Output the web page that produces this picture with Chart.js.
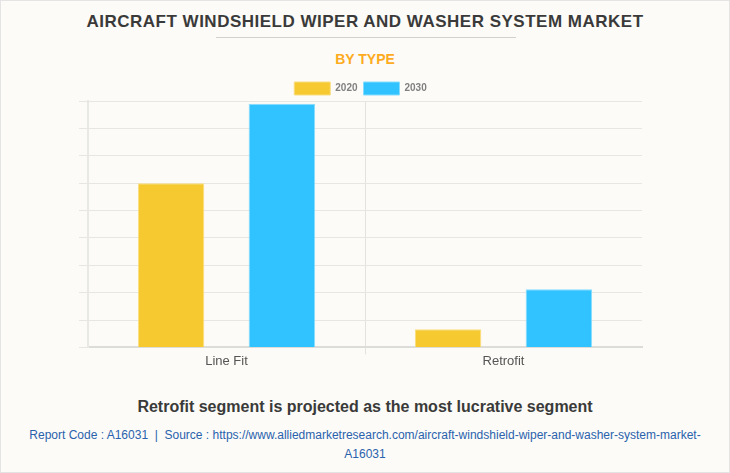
<!doctype html>
<html lang="en">

<head>
  <meta charset="utf-8">
  <title>Aircraft Windshield Wiper and Washer System Market</title>
  <style>
    html, body {
      margin: 0;
      padding: 0;
      background: #fcfbf7;
    }
    #page {
      position: relative;
      width: 728px;
      height: 471px;
      border: 1px solid #e4e4e4;
      overflow: hidden;
      font-family: "Liberation Sans", Arial, sans-serif;
    }
    #page div {
      position: absolute;
      left: 0;
      width: 728px;
      text-align: center;
    }
    #title {
      top: 11px;
      font-size: 17px;
      font-weight: bold;
      letter-spacing: 0.5px;
      color: #3a3a3a;
    }
    #rule {
      top: 36px;
      height: 1px;
      background: #d2d2cc;
      left: 215px !important;
      width: 300px !important;
    }
    #subtitle {
      top: 50px;
      font-size: 14px;
      font-weight: bold;
      color: #fdab1f;
    }
    #note {
      top: 397px;
      font-size: 16px;
      font-weight: bold;
      color: #3a3a3a;
    }
    #source {
      top: 425px;
      font-size: 12px;
      line-height: 19px;
      color: #2a62ad;
    }
    #chart {
      position: absolute;
      left: -1px;
      top: 75px;
    }
  </style>
</head>

<body>
  <div id="page">
    <div id="title">AIRCRAFT WINDSHIELD WIPER AND WASHER SYSTEM MARKET</div>
    <div id="rule"></div>
    <div id="subtitle">BY TYPE</div>
    <canvas id="chart" width="730" height="299"></canvas>
    <div id="note">Retrofit segment is projected as the most lucrative segment</div>
    <div id="source">Report Code : A16031 &nbsp;|&nbsp; Source : https://www.alliedmarketresearch.com/aircraft-windshield-wiper-and-washer-system-market-<br>A16031</div>
  </div>

  <script src="https://cdn.jsdelivr.net/npm/chart.js@4/dist/chart.umd.js"></script>
  <script>
  const categories = ['Line Fit', 'Retrofit'];
  const values2020 = [6.0, 0.66];
  const values2030 = [8.9, 2.12];

  const ctx = document.getElementById('chart').getContext('2d');

  // legend box is a few px too tall by default, plot has to start closer to it
  const tightLegend = {
    id: 'tightLegend',
    beforeLayout(chart) {
      const legend = chart.legend;
      const fit = legend.fit;
      legend.fit = function () {
        fit.call(this);
        this.height -= 4;
      };
    },
  };

  new Chart(ctx, {
    type: 'bar',
    plugins: [tightLegend],
    data: {
      labels: categories,
      datasets: [
        {
          label: '2020',
          data: values2020,
          backgroundColor: '#f5c92f',
          borderColor: '#f9dd80',
          borderWidth: 1,
        },
        {
          label: '2030',
          data: values2030,
          backgroundColor: '#31c3ff',
          borderColor: '#86dcff',
          borderWidth: 1,
        },
      ],
    },
    options: {
      responsive: false,
      animation: false,
      barPercentage: 0.6,
      categoryPercentage: 0.8,
      layout: {
        padding: { left: 79, right: 88, bottom: 7 },
      },
      plugins: {
        tooltip: { enabled: false },
        legend: {
          labels: {
            boxWidth: 36,
            boxHeight: 13,
            padding: 6,
            color: '#808080',
            font: { family: '"Liberation Sans"', size: 10, weight: 'bold' },
          },
        },
      },
      scales: {
        x: {
          border: { color: '#dcdcd8', width: 2 },
          // only the middle divider shows, and it runs below the axis
          grid: {
            color: c => (c.index === 1 ? '#e2e2de' : 'transparent'),
            tickLength: 7,
          },
          ticks: {
            color: '#555',
            padding: -1,
            font: { family: '"Liberation Sans"', size: 13 },
          },
        },
        y: {
          min: 0,
          max: 9,
          afterFit: scale => { scale.width = 9; },
          border: { color: '#e8e8e4', width: 2 },
          grid: { color: '#e6e6e2', tickLength: 9 },
          ticks: { stepSize: 1, display: false },
        },
      },
    },
  });
  </script>

</body>
</html>
